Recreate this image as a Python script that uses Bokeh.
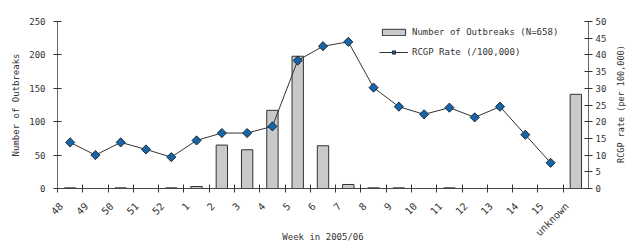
from math import pi
from bokeh.plotting import figure
from bokeh.models import (Range1d, LinearAxis, FixedTicker, SingleIntervalTicker,
                          Legend, LegendItem, ColumnDataSource)
from bokeh.embed import file_html
from bokeh.resources import INLINE

weeks = ["48", "49", "50", "51", "52", "1", "2", "3", "4", "5", "6", "7",
         "8", "9", "10", "11", "12", "13", "14", "15", "unknown"]
outbreaks = [1, 0, 1, 0, 1, 3, 65, 58, 117, 198, 64, 6,
             1, 1, 0, 1, 0, 0, 0, 0, 141]
rate_weeks = weeks[:20]
rate = [13.8, 10.0, 13.8, 11.7, 9.4, 14.4, 16.6, 16.6, 18.6, 38.3, 42.6, 43.9,
        30.2, 24.5, 22.2, 24.2, 21.3, 24.5, 16.1, 7.7]

FONT = "DejaVu Sans Mono"
FS = "9px"
TXT = "#333333"

bar_src = ColumnDataSource(dict(x=[i + 0.5 for i in range(len(weeks))], top=outbreaks))
rate_src = ColumnDataSource(dict(x=[i + 0.5 for i in range(len(rate_weeks))], y=rate))

p = figure(width=633, height=245, output_backend="svg", toolbar_location=None,
           x_range=Range1d(0, len(weeks)), y_range=Range1d(0, 250),
           x_axis_location=None,
           min_border_left=57, min_border_right=43, min_border_top=21, min_border_bottom=56)
p.extra_y_ranges = {"rate": Range1d(0, 50)}
p.outline_line_color = None
p.grid.visible = False
p.background_fill_color = "white"

bars = p.vbar(x="x", top="top", width=0.45, bottom=0, source=bar_src,
              fill_color="#c8c9cb", line_color="#333333", line_width=1)
ln = p.line(x="x", y="y", source=rate_src, y_range_name="rate",
            line_color="#333333", line_width=1)
sc = p.scatter(x="x", y="y", source=rate_src, y_range_name="rate", marker="square",
               angle=pi / 4, size=6.5, fill_color="#1565a8", line_color="#111111",
               line_width=0.8)

def style_axis(ax):
    ax.axis_line_color = "#666666"
    ax.major_tick_line_color = "#333333"
    ax.major_tick_in = 4
    ax.major_tick_out = 4
    ax.minor_tick_line_color = None
    ax.major_label_text_font = FONT
    ax.major_label_text_font_size = FS
    ax.major_label_text_color = TXT
    ax.axis_label_text_font = FONT
    ax.axis_label_text_font_size = FS
    ax.axis_label_text_color = TXT
    ax.axis_label_text_font_style = "normal"

# x axis: labels just right of each category boundary; boundary tick marks as minor ticks
xl = LinearAxis(ticker=FixedTicker(ticks=[i + 0.15 for i in range(len(weeks))],
                                   minor_ticks=list(range(len(weeks)))))
style_axis(xl)
xl.major_label_overrides = {i + 0.15: w for i, w in enumerate(weeks)}
xl.major_label_orientation = pi / 4
xl.major_label_text_font_size = "10px"
xl.major_label_standoff = 12
xl.major_tick_in = 0
xl.major_tick_out = 0
xl.major_tick_line_color = None
xl.minor_tick_line_color = "#333333"
xl.minor_tick_line_width = 1
xl.minor_tick_in = 4
xl.minor_tick_out = 4
xl.axis_line_color = "#444444"
xl.axis_label = "Week in 2005/06"
xl.axis_label_standoff = -13
p.add_layout(xl, "below")

ya = p.yaxis[0]
ya.ticker = SingleIntervalTicker(interval=50)
ya.axis_label = "Number of Outbreaks"
ya.major_label_standoff = 8
ya.axis_label_standoff = 5
style_axis(ya)

ra = LinearAxis(y_range_name="rate", ticker=SingleIntervalTicker(interval=5))
ra.major_label_standoff = 3
style_axis(ra)
p.add_layout(ra, "right")

# title of the right axis, reading bottom-to-top
rt = LinearAxis(y_range_name="rate", ticker=FixedTicker(ticks=[]),
                axis_label="\u00a0" * 5 + "RCGP rate (per 100,000)")
style_axis(rt)
rt.axis_line_color = None
rt.major_tick_line_color = None
rt.major_tick_in = 0
rt.major_tick_out = 0
rt.axis_label_standoff = 11
rt.axis_label_text_font_size = "8.5px"
rt.axis_label_orientation = pi / 2
for v in ("start", "left"):
    try:
        rt.axis_label_align = v
        break
    except Exception:
        pass
p.add_layout(rt, "right")

legend = Legend(items=[LegendItem(label="Number of Outbreaks (N=658)", renderers=[bars]),
                       LegendItem(label="RCGP Rate (/100,000)", renderers=[ln, sc])],
                location=(322, 130), orientation="vertical")
legend.glyph_width = 29
legend.glyph_height = 8
legend.label_height = 12
legend.spacing = 8
legend.padding = 0
legend.margin = 0
legend.label_standoff = 4
legend.border_line_alpha = 0
legend.background_fill_alpha = 0
legend.label_text_font = FONT
legend.label_text_font_size = FS
legend.label_text_color = TXT
p.add_layout(legend)

open("out.html", "w").write(file_html(p, INLINE))
